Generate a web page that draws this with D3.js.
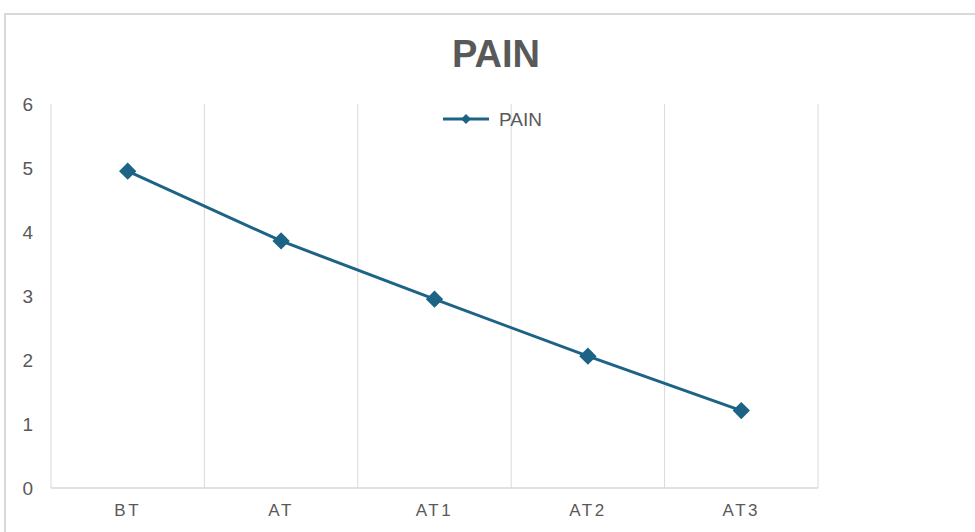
<!DOCTYPE html>
<html>
<head>
<meta charset="utf-8">
<script src="https://cdn.jsdelivr.net/npm/d3@7"></script>
<style>
  html, body { margin: 0; padding: 0; background: #fff; }
  svg { display: block; font-family: "Liberation Sans", Arial, sans-serif; }
</style>
</head>
<body>
<svg id="chart" width="975" height="532"></svg>
<script>
// data
const categories = ["BT", "AT", "AT1", "AT2", "AT3"];
const painValues = [4.95, 3.86, 2.95, 2.06, 1.21];
const yTicks = [0, 1, 2, 3, 4, 5, 6];
const seriesName = "PAIN";

const svg = d3.select("#chart");
const color = "#1c6385";
const textColor = "#595959";

// chart frame (only top and left edges are visible)
svg.append("path")
    .attr("d", "M5,975 V14 H975")
    .attr("fill", "none")
    .attr("stroke", "#d9d9d9")
    .attr("stroke-width", 2);

const margin = { left: 51, right: 157, top: 104, bottom: 44 };
const width = 975 - margin.left - margin.right;
const height = 532 - margin.top - margin.bottom;

const g = svg.append("g").attr("transform", `translate(${margin.left},${margin.top})`);

const x = d3.scaleBand().domain(categories).range([0, width]);
const y = d3.scaleLinear().domain([0, 6]).range([height, 0]);

// vertical gridlines at band edges
const edges = categories.map(c => x(c)).concat([width]);
g.selectAll(".grid")
    .data(edges)
    .join("line")
    .attr("class", "grid")
    .attr("x1", d => d).attr("x2", d => d)
    .attr("y1", 0).attr("y2", height)
    .attr("stroke", "#d9d9d9")
    .attr("stroke-width", 1);

// baseline
g.append("line")
    .attr("x1", 0).attr("x2", width)
    .attr("y1", height).attr("y2", height)
    .attr("stroke", "#d9d9d9")
    .attr("stroke-width", 1.5);

// y axis labels
const yAxis = g.append("g")
    .call(d3.axisLeft(y).tickValues(yTicks).tickFormat(d3.format("d")).tickSize(0).tickPadding(18));
yAxis.select(".domain").remove();
yAxis.selectAll("text")
    .attr("fill", textColor)
    .style("font-size", "19px");

// x axis labels
const xAxis = g.append("g")
    .attr("transform", `translate(0,${height})`)
    .call(d3.axisBottom(x).tickSize(0).tickPadding(16));
xAxis.select(".domain").remove();
xAxis.selectAll("text")
    .attr("fill", textColor)
    .style("font-size", "17px")
    .style("letter-spacing", "2.5px");

// series line
const pts = categories.map((c, i) => [x(c) + x.bandwidth() / 2, y(painValues[i])]);
g.append("path")
    .datum(pts)
    .attr("d", d3.line())
    .attr("fill", "none")
    .attr("stroke", color)
    .attr("stroke-width", 3);

const diamond = d3.symbol().type(d3.symbolSquare).size(150);
g.selectAll(".marker")
    .data(pts)
    .join("path")
    .attr("class", "marker")
    .attr("d", diamond)
    .attr("transform", d => `translate(${d[0]},${d[1]}) rotate(45)`)
    .attr("fill", color);

// title
svg.append("text")
    .attr("x", 496)
    .attr("y", 67)
    .attr("text-anchor", "middle")
    .attr("fill", textColor)
    .style("font-size", "38px")
    .style("font-weight", "bold")
    .text(seriesName);

// legend
const legend = svg.append("g").attr("transform", "translate(443,119)");
legend.append("line")
    .attr("x1", 0).attr("x2", 46)
    .attr("stroke", color)
    .attr("stroke-width", 3);
legend.append("path")
    .attr("d", d3.symbol().type(d3.symbolSquare).size(50))
    .attr("transform", "translate(23,0) rotate(45)")
    .attr("fill", color);
legend.append("text")
    .attr("x", 56)
    .attr("y", 7)
    .attr("fill", textColor)
    .style("font-size", "19px")
    .text(seriesName);
</script>
</body>
</html>
